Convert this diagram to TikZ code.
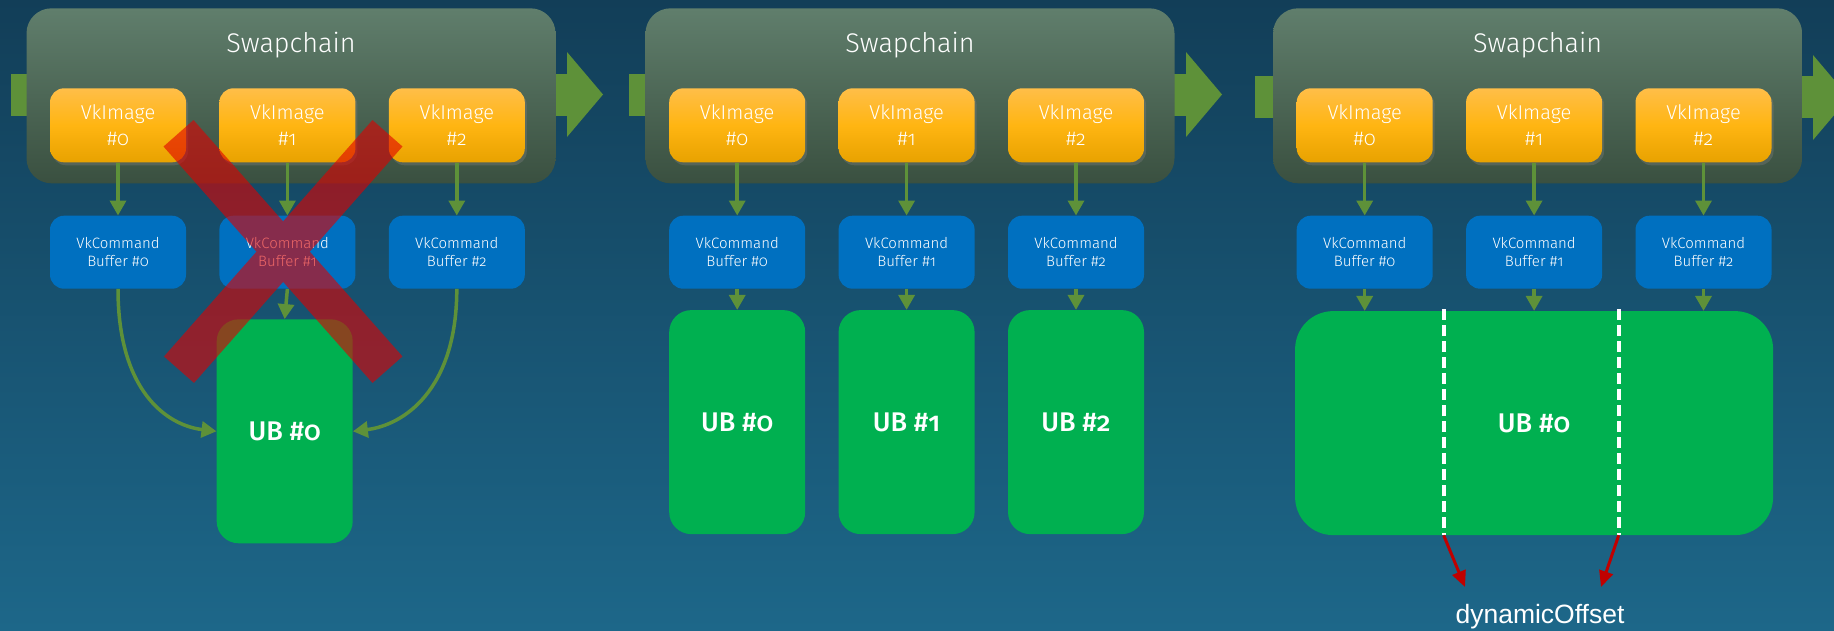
\documentclass[tikz,border=0pt]{standalone}
\usepackage{fontspec}
\setmainfont{Fira Sans Light}[Numbers=OldStyle, BoldFont={Fira Sans Medium}]
\newfontfamily\arialfont{Liberation Sans}
\usetikzlibrary{positioning}
\usetikzlibrary{shapes,arrows.meta,shadows}
\usepackage{xcolor}

\definecolor{bgtop}{HTML}{123E58}
\definecolor{bgbottom}{HTML}{1D6789}
\definecolor{chaintop}{HTML}{607E6C}
\definecolor{chainbottom}{HTML}{3A5040}
\definecolor{imgtop}{HTML}{FFBE48}
\definecolor{imgmid}{HTML}{FFB512}
\definecolor{imgbottom}{HTML}{E8A200}
\definecolor{cmdblue}{HTML}{0070C0}
\definecolor{ubgreen}{HTML}{00B050}
\definecolor{flowgreen}{HTML}{5E9139}
\definecolor{offsetred}{HTML}{C00000}
\definecolor{crossred}{HTML}{E00000}

\begin{document}
\begin{tikzpicture}[x=1pt, y=-1pt, node distance=53pt and 33pt,
    every node/.style={align=center, text=white, inner sep=0pt},
    chainbox/.style={rounded corners=25pt, top color=chaintop, bottom color=chainbottom, minimum width=529pt, minimum height=175pt},
    chaintitle/.style={font=\fontsize{27}{30}\selectfont},
    imgbox/.style={rounded corners=14pt, top color=imgtop, bottom color=imgbottom, middle color=imgmid, minimum width=136pt, minimum height=74pt, font=\fontsize{20}{25.5}\selectfont, drop shadow={opacity=0.35, shadow xshift=2pt, shadow yshift=-3pt}},
    cmdbox/.style={rounded corners=14pt, fill=cmdblue, minimum width=136pt, minimum height=73pt, font=\fontsize{15}{18.5}\selectfont},
    ubbox/.style={rounded corners=22pt, fill=ubgreen, minimum height=224pt, font=\bfseries\fontsize{27}{30}\selectfont},
    flow/.style={fill=flowgreen},
    link/.style={draw=flowgreen, line width=3.5pt, -{Triangle[length=15pt, width=16pt]}},
    cut/.style={draw=white, line width=4pt, dash pattern=on 11pt off 5pt},
    offsetarrow/.style={draw=offsetred, line width=3pt, -{Triangle[length=16pt, width=14pt]}},
    offsettext/.style={font=\arialfont\fontsize{26.5}{30}\selectfont},
    cross/.style={draw=crossred, line width=40pt}]
    \useasboundingbox (0,0) rectangle (1834,630);
    \shade[top color=bgtop, bottom color=bgbottom] (0,0) rectangle (1834,630);

    % flow arrows behind the swapchains
    \fill[flow] (11,74) rectangle (567,116);
    \fill[flow] (567,52) -- (603,94.5) -- (567,137) -- cycle;
    \fill[flow] (628.7,74) rectangle (1186,116);
    \fill[flow] (1186,52) -- (1222,94.5) -- (1186,137) -- cycle;
    \fill[flow] (1255,76) rectangle (1813,118);
    \fill[flow] (1813,55) -- (1849,97.5) -- (1813,140) -- cycle;

    % one uniform buffer shared by all
    \node (swA) [chainbox] at (291,95.8) {};
    \node (titleA) [chaintitle] at ([yshift=-37pt]swA.north) {Swapchain};
    \node (imgA0) [imgbox] at (118,125.3) {VkImage\\\#0};
    \node (imgA1) [imgbox, right=of imgA0] {VkImage\\\#1};
    \node (imgA2) [imgbox, right=of imgA1] {VkImage\\\#2};
    \node (cmdA0) [cmdbox, below=of imgA0] {VkCommand\\Buffer \#0};
    \node (cmdA1) [cmdbox, below=of imgA1] {VkCommand\\Buffer \#1};
    \node (cmdA2) [cmdbox, below=of imgA2] {VkCommand\\Buffer \#2};
    \node (ubA) [ubbox, minimum width=136pt] at (284.7,431.3) {UB \#0};

    \draw[link] (imgA0) -- (cmdA0);
    \draw[link] (imgA1) -- (cmdA1);
    \draw[link] (imgA2) -- (cmdA2);
    \draw[link] (cmdA0.south) .. controls +(0,102) and +(-50,-6) .. (ubA.west);
    \draw[link] (cmdA1.south) -- (ubA.north);
    \draw[link] (cmdA2.south) .. controls +(0,102) and +(50,-6) .. (ubA.east);

    % one uniform buffer per image
    \node (swB) [chainbox] at (910,95.8) {};
    \node (titleB) [chaintitle] at ([yshift=-37pt]swB.north) {Swapchain};
    \node (imgB0) [imgbox] at (737.2,125.3) {VkImage\\\#0};
    \node (imgB1) [imgbox, right=of imgB0] {VkImage\\\#1};
    \node (imgB2) [imgbox, right=of imgB1] {VkImage\\\#2};
    \node (cmdB0) [cmdbox, below=of imgB0] {VkCommand\\Buffer \#0};
    \node (cmdB1) [cmdbox, below=of imgB1] {VkCommand\\Buffer \#1};
    \node (cmdB2) [cmdbox, below=of imgB2] {VkCommand\\Buffer \#2};
    \node (ubB0) [ubbox, minimum width=136pt, below=21pt of cmdB0] {UB \#0};
    \node (ubB1) [ubbox, minimum width=136pt, below=21pt of cmdB1] {UB \#1};
    \node (ubB2) [ubbox, minimum width=136pt, below=21pt of cmdB2] {UB \#2};

    \draw[link] (imgB0) -- (cmdB0);
    \draw[link] (imgB1) -- (cmdB1);
    \draw[link] (imgB2) -- (cmdB2);
    \draw[link] (cmdB0) -- (ubB0);
    \draw[link] (cmdB1) -- (ubB1);
    \draw[link] (cmdB2) -- (ubB2);

    % one big buffer with dynamic offsets
    \node (swC) [chainbox] at (1537.6,95.8) {};
    \node (titleC) [chaintitle] at ([yshift=-37pt]swC.north) {Swapchain};
    \node (imgC0) [imgbox] at (1364.7,125.3) {VkImage\\\#0};
    \node (imgC1) [imgbox, right=of imgC0] {VkImage\\\#1};
    \node (imgC2) [imgbox, right=of imgC1] {VkImage\\\#2};
    \node (cmdC0) [cmdbox, below=of imgC0] {VkCommand\\Buffer \#0};
    \node (cmdC1) [cmdbox, below=of imgC1] {VkCommand\\Buffer \#1};
    \node (cmdC2) [cmdbox, below=of imgC2] {VkCommand\\Buffer \#2};
    \node (ubC) [ubbox, minimum width=478pt, rounded corners=38pt, below=22pt of cmdC1] {UB \#0};
    \node (dyn) [offsettext] at (1540,616.6) {dynamicOffset};

    \draw[link] (imgC0) -- (cmdC0);
    \draw[link] (imgC1) -- (cmdC1);
    \draw[link] (imgC2) -- (cmdC2);
    \draw[link] (cmdC0) -- (cmdC0 |- ubC.north);
    \draw[link] (cmdC1) -- (ubC);
    \draw[link] (cmdC2) -- (cmdC2 |- ubC.north);

    \coordinate (cutA) at (1443.7,309);
    \coordinate (cutB) at (1618.7,309);
    \coordinate (cutAend) at (cutA |- ubC.south);
    \coordinate (cutBend) at (cutB |- ubC.south);
    \coordinate (offA) at (1465,587);
    \coordinate (offB) at (1601,587);
    \draw[cut] (cutA) -- (cutAend);
    \draw[cut] (cutB) -- (cutBend);
    \draw[offsetarrow] (cutAend) -- (offA);
    \draw[offsetarrow] (cutBend) -- (offB);

    % cross over the first case
    \begin{scope}[transparency group, opacity=0.6]
        \draw[cross] (178.5,133.3) -- (387.5,369.7);
        \draw[cross] (387.5,133.3) -- (179,369.7);
    \end{scope}
\end{tikzpicture}
\end{document}
